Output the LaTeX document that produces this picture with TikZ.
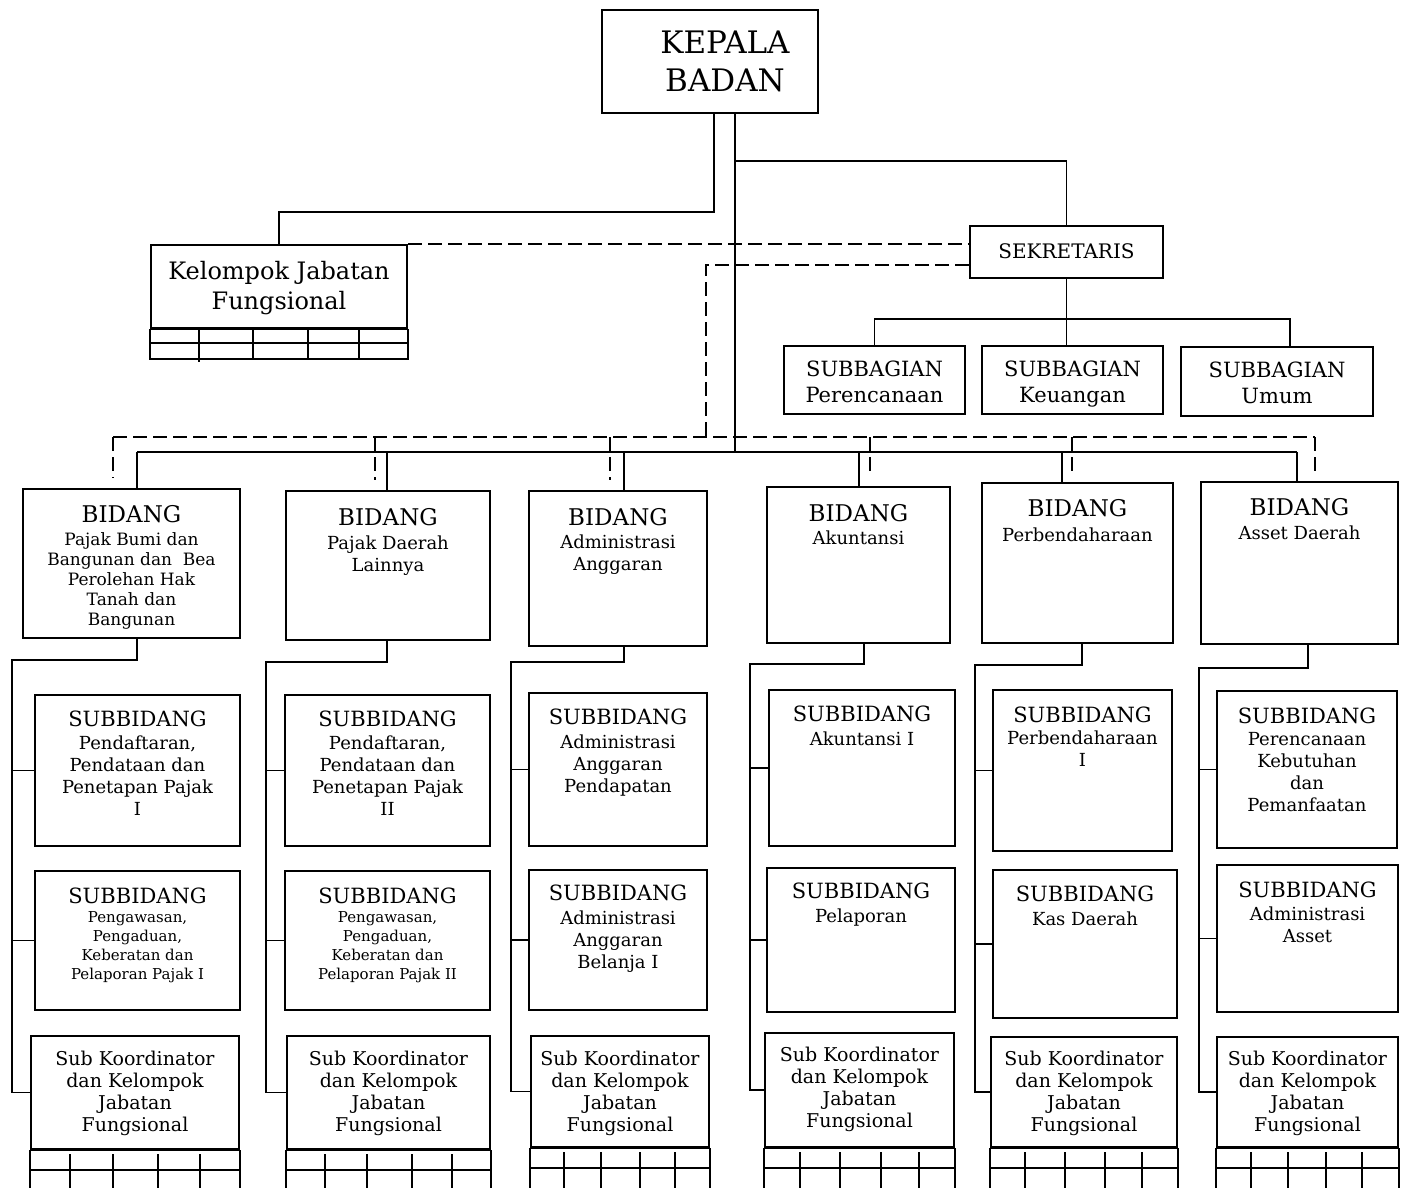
\documentclass[tikz,border=0pt]{standalone}
\usepackage{fontspec}
\setmainfont{DejaVu Serif}
\usetikzlibrary{fit,calc}
\newcommand{\fs}[2]{\fontsize{#1}{#2}\selectfont}
\newcommand{\mkbox}[5]{\node[box, fit={(#2,#3) (#4,#5)}] (#1) {};}
\begin{document}
\begin{tikzpicture}[x=0.5pt,y=-0.5pt,
  box/.style={draw, line width=1pt, inner sep=0pt},
  conn/.style={line width=0.8pt},
  dline/.style={line width=0.8pt, dash pattern=on 7pt off 3pt},
  txt/.style={align=center, inner sep=0pt},
  grid/.style={line width=0.8pt},
  tgrid/.style={line width=1.3pt}]
\useasboundingbox (0,0) rectangle (1404,1188);
\clip (0,0) rectangle (1404,1188);
\fill[white] (0,0) rectangle (1404,1188);

% ---------- boxes ----------
\mkbox{kb}{602}{10}{818}{113}
\mkbox{kjf}{151}{245}{407}{328}
\mkbox{sek}{970}{226}{1163}{278}
\mkbox{sb1}{784}{346}{965}{414}
\mkbox{sb2}{982}{346}{1163}{414}
\mkbox{sb3}{1181}{347}{1373}{416}

\mkbox{b1}{23}{489}{240}{638}
\mkbox{b2}{286}{491}{490}{640}
\mkbox{b3}{529}{491}{707}{646}
\mkbox{b4}{767}{487}{950}{643}
\mkbox{b5}{982}{483}{1173}{643}
\mkbox{b6}{1201}{482}{1398}{644}

\mkbox{s11}{35}{695}{240}{846}
\mkbox{s12}{35}{871}{240}{1010}
\mkbox{s13}{31}{1036}{239}{1149}
\mkbox{s21}{285}{695}{490}{846}
\mkbox{s22}{285}{871}{490}{1010}
\mkbox{s23}{287}{1036}{490}{1149}
\mkbox{s31}{529}{693}{707}{846}
\mkbox{s32}{529}{870}{707}{1010}
\mkbox{s33}{531}{1036}{709}{1147}
\mkbox{s41}{769}{690}{955}{846}
\mkbox{s42}{767}{868}{955}{1012}
\mkbox{s43}{765}{1033}{954}{1147}
\mkbox{s51}{993}{690}{1172}{851}
\mkbox{s52}{993}{870}{1177}{1018}
\mkbox{s53}{991}{1037}{1177}{1147}
\mkbox{s61}{1217}{691}{1397}{848}
\mkbox{s62}{1217}{865}{1398}{1012}
\mkbox{s63}{1217}{1037}{1398}{1147}

% ---------- texts ----------
\node[txt, anchor=north, font=\fs{15.5}{19}] (kbt) at ($(kb.center |- 0,31)+(15,0)$) {KEPALA\\BADAN};
\node[txt, anchor=north, font=\fs{12}{15}] (kjft) at (kjf.center |- 0,261) {Kelompok Jabatan\\Fungsional};
\node[txt, font=\fs{10}{12}] (sekt) at (sek.center |- 0,251) {SEKRETARIS};
\node[txt, anchor=north, font=\fs{10.5}{13}] (sb1t) at (sb1.center |- 0,361) {SUBBAGIAN\\Perencanaan};
\node[txt, anchor=north, font=\fs{10.5}{13}] (sb2t) at (sb2.center |- 0,361) {SUBBAGIAN\\Keuangan};
\node[txt, anchor=north, font=\fs{10.5}{13}] (sb3t) at (sb3.center |- 0,362) {SUBBAGIAN\\Umum};

\tikzset{bt/.style={txt, font=\fs{11.5}{14}},
  bb/.style={txt, anchor=north, font=\fs{9}{11}},
  st/.style={txt, font=\fs{10.5}{13}},
  sbody/.style={txt, anchor=north, font=\fs{9}{11}},
  ssmall/.style={txt, anchor=north, font=\fs{7.5}{9.5}},
  kt/.style={txt, anchor=north, font=\fs{9.5}{11}}}

\node[bt] (b1t) at (b1.center |- 0,514) {BIDANG};
\node[txt, anchor=north, font=\fs{8.5}{10}] (b1b) at (b1.center |- 0,532) {Pajak Bumi dan\\Bangunan dan~~Bea\\Perolehan Hak\\Tanah dan\\Bangunan};
\node[bt] (b2t) at (b2.center |- 0,517) {BIDANG};
\node[bb] (b2b) at (b2.center |- 0,535) {Pajak Daerah\\Lainnya};
\node[bt] (b3t) at (b3.center |- 0,517) {BIDANG};
\node[bb] (b3b) at (b3.center |- 0,534) {Administrasi\\Anggaran};
\node[bt] (b4t) at (b4.center |- 0,513) {BIDANG};
\node[bb] (b4b) at (b4.center |- 0,530) {Akuntansi};
\node[bt] (b5t) at (b5.center |- 0,508) {BIDANG};
\node[bb] (b5b) at (b5.center |- 0,527) {Perbendaharaan};
\node[bt] (b6t) at (b6.center |- 0,507) {BIDANG};
\node[bb] (b6b) at (b6.center |- 0,525) {Asset Daerah};

\node[st] (s11t) at (s11.center |- 0,719) {SUBBIDANG};
\node[sbody] (s11b) at (s11.center |- 0,735) {Pendaftaran,\\Pendataan dan\\Penetapan Pajak\\I};
\node[st] (s12t) at (s12.center |- 0,896) {SUBBIDANG};
\node[ssmall] (s12b) at (s12.center |- 0,911) {Pengawasan,\\Pengaduan,\\Keberatan dan\\Pelaporan Pajak I};
\node[kt] (s13b) at (s13.center |- 0,1051) {Sub Koordinator\\dan Kelompok\\Jabatan\\Fungsional};

\node[st] (s21t) at (s21.center |- 0,719) {SUBBIDANG};
\node[sbody] (s21b) at (s21.center |- 0,735) {Pendaftaran,\\Pendataan dan\\Penetapan Pajak\\II};
\node[st] (s22t) at (s22.center |- 0,896) {SUBBIDANG};
\node[ssmall] (s22b) at (s22.center |- 0,911) {Pengawasan,\\Pengaduan,\\Keberatan dan\\Pelaporan Pajak II};
\node[kt] (s23b) at (s23.center |- 0,1051) {Sub Koordinator\\dan Kelompok\\Jabatan\\Fungsional};

\node[st] (s31t) at (s31.center |- 0,717) {SUBBIDANG};
\node[sbody] (s31b) at (s31.center |- 0,734) {Administrasi\\Anggaran\\Pendapatan};
\node[st] (s32t) at (s32.center |- 0,893) {SUBBIDANG};
\node[sbody] (s32b) at (s32.center |- 0,910) {Administrasi\\Anggaran\\Belanja I};
\node[kt] (s33b) at (s33.center |- 0,1051) {Sub Koordinator\\dan Kelompok\\Jabatan\\Fungsional};

\node[st] (s41t) at (s41.center |- 0,714) {SUBBIDANG};
\node[sbody] (s41b) at (s41.center |- 0,731) {Akuntansi I};
\node[st] (s42t) at (s42.center |- 0,891) {SUBBIDANG};
\node[sbody] (s42b) at (s42.center |- 0,908) {Pelaporan};
\node[kt] (s43b) at (s43.center |- 0,1047) {Sub Koordinator\\dan Kelompok\\Jabatan\\Fungsional};

\node[st] (s51t) at (s51.center |- 0,715) {SUBBIDANG};
\node[sbody] (s51b) at (s51.center |- 0,730) {Perbendaharaan\\I};
\node[st] (s52t) at (s52.center |- 0,894) {SUBBIDANG};
\node[sbody] (s52b) at (s52.center |- 0,911) {Kas Daerah};
\node[kt] (s53b) at (s53.center |- 0,1051) {Sub Koordinator\\dan Kelompok\\Jabatan\\Fungsional};

\node[st] (s61t) at (s61.center |- 0,716) {SUBBIDANG};
\node[sbody] (s61b) at (s61.center |- 0,732) {Perencanaan\\Kebutuhan\\dan\\Pemanfaatan};
\node[st] (s62t) at (s62.center |- 0,890) {SUBBIDANG};
\node[sbody] (s62b) at (s62.center |- 0,906) {Administrasi\\Asset};
\node[kt] (s63b) at (s63.center |- 0,1051) {Sub Koordinator\\dan Kelompok\\Jabatan\\Fungsional};

% ---------- solid connectors ----------
\coordinate (kbL) at ([xshift=2pt]kb.south);
\coordinate (kbR) at ([xshift=12.5pt]kb.south);
\coordinate (d1) at (137,452);
\coordinate (d2) at (387,452);
\coordinate (d3) at (624,452);
\coordinate (d4) at (859,452);
\coordinate (d5) at (1062,452);
\coordinate (d6) at (1297,452);

\draw[conn] (kbL) |- ($(kjf.north)+(0,-32)$) -- (kjf.north);
\draw[conn] (kbR) -- (kbR |- d1);
\draw[conn] (kbR |- 0,161) -| (sek.north);
\draw[conn] (sek.south) -- (sek.south |- sb2.north);
\draw[conn] (sb1.north) -- ++(0,-26) -| ([xshift=6.5pt]sb3.north);
\draw[conn] (d1) -- (d6);
\foreach \i in {1,...,6} { \draw[conn] (d\i) -- (d\i |- b\i.north); }

% columns
\coordinate (u1) at (137,660);  \coordinate (v1) at (12,0);
\coordinate (u2) at (387,662);  \coordinate (v2) at (266,0);
\coordinate (u3) at (624,662);  \coordinate (v3) at (511,0);
\coordinate (u4) at (864,664);  \coordinate (v4) at (750,0);
\coordinate (u5) at (1082,665); \coordinate (v5) at (975,0);
\coordinate (u6) at (1308,668); \coordinate (v6) at (1199,0);
\foreach \i in {1,...,6} {
  \draw[conn] (b\i.south -| u\i) -- (u\i) -| (s\i3.west -| v\i) -- (s\i3.west);
  \draw[conn] (s\i1.west -| v\i) -- (s\i1.west);
  \draw[conn] (s\i2.west -| v\i) -- (s\i2.west);
}

% ---------- dashed connectors ----------
\coordinate (e1) at (706,437);
\coordinate (f1) at (113,437);
\coordinate (f2) at (375,437);
\coordinate (f3) at (610,437);
\coordinate (f4) at (870,437);
\coordinate (f5) at (1072,437);
\coordinate (f6) at (1315,437);
\draw[dline] (kjf.north east) -- (kjf.north east -| sek.west);
\draw[dline] (sek.west |- 0,265) -| (e1);
\draw[dline] (f1) -- (f6);
\foreach \i in {1,...,6} { \draw[dline] (f\i) -- ($(f\i |- b\i.north)+(0,-10)$); }

% ---------- tables ----------
\draw[tgrid] (kjf.south west) -- (kjf.south east);
\draw[grid] (kjf.south west) -- (kjf.south west |- 0,359) -- (kjf.south east |- 0,359) -- (kjf.south east);
\draw[grid] (kjf.south west |- 0,343) -- (kjf.south east |- 0,343);
\draw[grid] (199,328) -- (199,362);
\foreach \x in {253,308,359} { \draw[grid] (\x,328) -- (\x,359); }

\newcommand{\tbl}[5]{%
  \draw[tgrid] (#1.south west) -- (#1.south east);
  \draw[grid] (#1.south west) -- ++(0,80);
  \draw[grid] (#1.south east) -- ++(0,80);
  \draw[grid] ($(#1.south west)+(0,20)$) -- ($(#1.south east)+(0,20)$);
  \foreach \x in {#2,#3,#4,#5} { \draw[grid] ($(#1.south west -| \x,0)+(0,4)$) -- ++(0,80); }
}
\tbl{s13}{70}{113}{158}{200}
\tbl{s23}{325}{367}{412}{452}
\tbl{s33}{564}{601}{640}{675}
\tbl{s43}{800}{840}{881}{919}
\tbl{s53}{1025}{1065}{1105}{1142}
\tbl{s63}{1251}{1288}{1326}{1362}
\end{tikzpicture}
\end{document}
